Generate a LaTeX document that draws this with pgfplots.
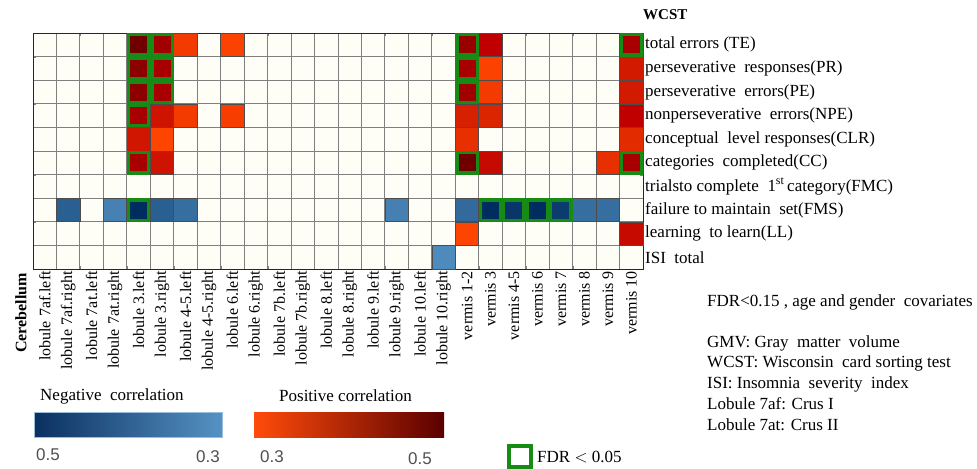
\documentclass[border=0pt]{standalone}
\usepackage{pgfplots}
\usepackage{pgfplotstable}
\pgfplotsset{compat=1.18}
\usepackage{fontspec}
\setmainfont{Liberation Serif}
\setsansfont{Liberation Sans}
\definecolor{bgcol}{RGB}{254,254,247}
\definecolor{fdrgreen}{RGB}{22,140,22}
\definecolor{nA}{RGB}{10,48,96}
\definecolor{nB}{RGB}{45,95,145}
\definecolor{nC}{RGB}{85,146,196}
\definecolor{pA}{RGB}{255,75,10}
\definecolor{pB}{RGB}{180,38,6}
\definecolor{pC}{RGB}{90,0,0}
\definecolor{numgray}{RGB}{80,80,80}
\pgfplotsset{
  colormap={reds}{rgb255(0cm)=(255,70,0); rgb255(1cm)=(215,32,0); rgb255(2cm)=(192,0,0); rgb255(3cm)=(160,0,0); rgb255(4cm)=(100,0,0)},
  colormap={blues}{rgb255(0cm)=(85,146,196); rgb255(1cm)=(0,45,95)},
}
% positive correlations (x = region index, y = WCST row, c = |r|)
\pgfplotstableread{
x y c
5 1 0.49
6 1 0.45
7 1 0.315
9 1 0.305
19 1 0.457
20 1 0.40
26 1 0.437
5 2 0.467
6 2 0.437
19 2 0.437
20 2 0.305
26 2 0.36
5 3 0.467
6 3 0.437
19 3 0.45
20 3 0.315
26 3 0.36
5 4 0.437
6 4 0.37
7 4 0.315
9 4 0.31
19 4 0.35
20 4 0.345
26 4 0.40
5 5 0.365
6 5 0.302
19 5 0.33
26 5 0.335
5 6 0.437
6 6 0.37
19 6 0.49
20 6 0.385
25 6 0.33
26 6 0.437
19 9 0.302
26 9 0.385
}\pos
% negative correlations (|r|)
\pgfplotstableread{
x y c
2 8 0.40
4 8 0.333
5 8 0.50
6 8 0.40
7 8 0.37
16 8 0.335
19 8 0.38
20 8 0.50
21 8 0.48
22 8 0.50
23 8 0.47
24 8 0.37
25 8 0.37
18 10 0.315
}\neg
% FDR < 0.05 cells
\pgfplotstableread{
x y
5 1
6 1
19 1
26 1
5 2
6 2
19 2
5 3
6 3
19 3
5 4
5 6
19 6
26 6
5 8
20 8
21 8
22 8
23 8
}\fdr
\begin{document}
\fontsize{17bp}{20bp}\selectfont
\begin{tikzpicture}[font=\fontsize{17bp}{20bp}\selectfont]
\useasboundingbox (0,0) rectangle (977bp,-469bp);
\begin{axis}[
  at={(33bp,-33bp)}, anchor=north west,
  scale only axis, width=610bp, height=236bp,
  xmin=0.5, xmax=26.5, ymin=0.5, ymax=10.5, y dir=reverse,
  clip=false,
  axis background/.style={fill=bgcol},
  axis line style={black!85, line width=1bp},
  major tick length=0pt,
  xtick={1,...,26},
  xticklabels={lobule 7af.left,lobule 7af.right,lobule 7at.left,lobule 7at.right,lobule 3.left,lobule 3.right,lobule 4-5.left,lobule 4-5.right,lobule 6.left,lobule 6.right,lobule 7b.left,lobule 7b.right,lobule 8.left,lobule 8.right,lobule 9.left,lobule 9.right,lobule 10.left,lobule 10.right,vermis 1-2,vermis 3,vermis 4-5,vermis 6,vermis 7,vermis 8,vermis 9,vermis 10},
  x tick label style={rotate=90, anchor=east, inner sep=2bp, font=\fontsize{16bp}{19bp}\selectfont},
  ytick={1,...,10},
  yticklabels={total errors (TE),perseverative\ \ responses(PR),perseverative\ \ errors(PE),nonperseverative\ \ errors(NPE),conceptual\ \ level responses(CLR),categories\ \ completed(CC),trialsto complete\ \ 1\textsuperscript{st}\,category(FMC),failure to maintain\ \ set(FMS),learning\ \ to learn(LL),ISI\ \ total},
  yticklabel pos=right,
  y tick label style={anchor=west, inner sep=2bp, font=\fontsize{17bp}{20bp}\selectfont},
  minor xtick={0.5,1.5,...,26.5},
  minor ytick={0.5,1.5,...,10.5},
  xminorgrids=true, yminorgrids=true,
  minor grid style={draw=black!50, line width=1bp},
  point meta min=0.3, point meta max=0.5,
]
\addplot[scatter, only marks, mark=square*, mark size=11.7bp, colormap name=reds,
  point meta=explicit, scatter/use mapped color={draw=black!70, fill=mapped color},
  mark options={line width=0.7bp}] table[x=x, y=y, meta=c] {\pos};
\addplot[scatter, only marks, mark=square*, mark size=11.7bp, colormap name=blues,
  point meta=explicit, scatter/use mapped color={draw=black!70, fill=mapped color},
  mark options={line width=0.7bp}] table[x=x, y=y, meta=c] {\neg};
\addplot[only marks, mark=square, mark size=10.1bp,
  mark options={draw=fdrgreen, line width=3.2bp}] table[x=x, y=y] {\fdr};
\end{axis}
\node[anchor=west, inner sep=0, font=\fontsize{15bp}{18bp}\selectfont\bfseries] at (643bp,-15bp) {WCST};
\node[rotate=90, anchor=east, inner sep=0, font=\fontsize{16bp}{18bp}\selectfont\bfseries] at (21bp,-273bp) {Cerebellum};
% colour bars
\node[anchor=west, inner sep=0] at (40bp,-396bp) {Negative\ \ correlation};
\shade[left color=nA, middle color=nB, right color=nC] (34bp,-412bp) rectangle (222bp,-437bp);
\draw[nC!60, line width=0.6bp] (34bp,-412bp) rectangle (222bp,-437bp);
\node[inner sep=0, font=\sffamily\fontsize{17bp}{20bp}\selectfont, text=numgray] at (48bp,-455bp) {0.5};
\node[inner sep=0, font=\sffamily\fontsize{17bp}{20bp}\selectfont, text=numgray] at (208bp,-457bp) {0.3};
\node[anchor=west, inner sep=0] at (279bp,-396bp) {Positive correlation};
\shade[left color=pA, middle color=pB, right color=pC] (254bp,-412bp) rectangle (444bp,-437bp);
\node[inner sep=0, font=\sffamily\fontsize{17bp}{20bp}\selectfont, text=numgray] at (272bp,-457bp) {0.3};
\node[inner sep=0, font=\sffamily\fontsize{17bp}{20bp}\selectfont, text=numgray] at (420bp,-459bp) {0.5};
% FDR legend
\draw[fdrgreen, line width=3.2bp] (509bp,-446bp) rectangle (531bp,-467bp);
\node[anchor=west, inner sep=0] at (537bp,-457bp) {FDR $<$ 0.05};
% notes
\node[anchor=west, inner sep=0] at (707bp,-302bp) {FDR<0.15 , age and gender\ \ covariates};
\node[anchor=west, inner sep=0] at (707bp,-343bp) {GMV: Gray\ \ matter\ \ volume};
\node[anchor=west, inner sep=0] at (707bp,-363bp) {WCST: Wisconsin\ \ card sorting test};
\node[anchor=west, inner sep=0] at (707bp,-384bp) {ISI: Insomnia\ \ severity\ \ index};
\node[anchor=west, inner sep=0] at (707bp,-404bp) {Lobule 7af: Crus I};
\node[anchor=west, inner sep=0] at (707bp,-425bp) {Lobule 7at: Crus II};
\end{tikzpicture}
\end{document}
